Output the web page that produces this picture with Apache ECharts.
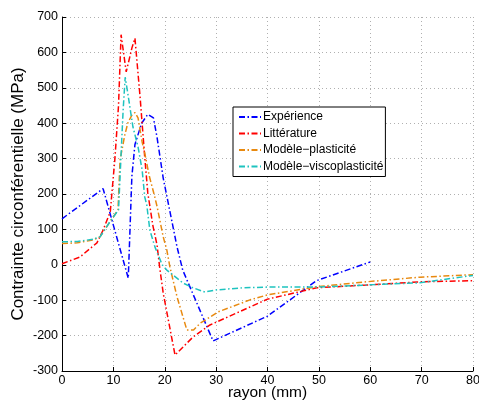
<!DOCTYPE html>
<html><head><meta charset="utf-8">
<script src="https://cdn.jsdelivr.net/npm/echarts@6/dist/echarts.min.js"></script>
<style>html,body{margin:0;padding:0;background:#fff}#c{width:479px;height:402px}</style>
</head><body><div id="c"></div>
<script>
var seriesNames = ['Expérience', 'Littérature', 'Modèle\u2212plasticité', 'Modèle\u2212viscoplasticité'];
var xTicks = [0, 10, 20, 30, 40, 50, 60, 70, 80];
var yTicks = [-300, -200, -100, 0, 100, 200, 300, 400, 500, 600, 700];

var expX = [0, 8, 12.9, 13.6, 14.2, 15.5, 16.7, 17.8, 18.5, 19.7, 22.4, 23.5, 29.4, 40, 49.5, 60];
var expY = [130, 215, -38, 250, 340, 400, 425, 415, 360, 245, 50, -15, -215, -145, -45, 8];

var litX = [0, 3.5, 6.8, 8, 9.4, 10.3, 11, 11.5, 12.5, 13.6, 14.2, 15.2, 16.1, 16.7, 17.7, 18.5, 19, 19.7, 22, 25.5, 28.8, 40, 49.6, 59.3, 69.6, 80];
var litY = [3, 22, 62, 98, 150, 300, 450, 650, 545, 612, 640, 474, 305, 203, 110, 56, -6, -80, -255, -204, -170, -97, -65, -57, -48, -45];

var plaX = [0, 3, 6, 7.4, 9.3, 10.9, 11.3, 12.2, 12.8, 13.6, 14.2, 14.8, 15.6, 16.1, 17, 18, 18.5, 19.7, 20.4, 21, 22.4, 24.3, 25.6, 26.9, 30.4, 36.6, 40, 49.6, 59.3, 69.6, 80];
var plaY = [60, 62, 70, 79, 121, 155, 296, 365, 400, 423, 430, 415, 347, 316, 250, 195, 165, 79, 42, -6, -91, -184, -184, -165, -133, -99, -85, -62, -48, -35, -28];

var visX = [0, 3, 6, 7.4, 9.3, 11, 11.3, 11.6, 11.9, 12.3, 12.8, 13.8, 14.8, 15.6, 16.1, 16.5, 17.1, 18.1, 19.5, 20.4, 21.6, 23.5, 25.5, 27.8, 30, 35.2, 40, 46.3, 49.6, 59.3, 69.6, 80];
var visY = [65, 66, 72, 79, 121, 155, 248, 344, 437, 530, 485, 390, 333, 268, 192, 169, 98, 50, 0, -15, -29, -51, -65, -77, -71, -65, -63, -63, -63, -57, -51, -30];

var colors = ['#0000ff', '#ff0000', '#e8890f', '#1ec3bf'];

function pairs(xs, ys) { return xs.map(function (x, i) { return [x, ys[i]]; }); }
var dataSets = [pairs(expX, expY), pairs(litX, litY), pairs(plaX, plaY), pairs(visX, visY)];

var font = 'Liberation Sans, Arial, Helvetica, sans-serif';
var chart = echarts.init(document.getElementById('c'), null, {renderer: 'canvas'});
chart.setOption({
  animation: false,
  backgroundColor: '#fff',
  grid: {left: 62, right: 6, top: 17, bottom: 31, containLabel: false, outerBoundsMode: 'none'},
  legend: {
    orient: 'vertical', left: 233, top: 107,
    data: seriesNames,
    backgroundColor: '#fff', borderColor: '#000', borderWidth: 1,
    padding: [4, 2, 4, 5], itemGap: 4.5, itemWidth: 22, itemHeight: 12,
    itemStyle: {opacity: 0},
    textStyle: {fontFamily: font, fontSize: 12, color: '#000', padding: [0, 0, 0, -3]}
  },
  xAxis: {
    type: 'value', min: xTicks[0], max: xTicks[xTicks.length - 1], interval: 10,
    name: 'rayon (mm)', nameLocation: 'middle', nameGap: 14, nameMoveOverlap: false,
    nameTextStyle: {fontFamily: font, fontSize: 15.5, color: '#000'},
    axisLine: {onZero: false, lineStyle: {color: '#000', width: 1}},
    axisTick: {inside: true, length: 4, lineStyle: {color: '#000'}},
    axisLabel: {fontFamily: font, fontSize: 12.5, color: '#000', margin: 3},
    splitLine: {show: true, lineStyle: {color: '#b0b0b0', type: [1, 3], width: 1}}
  },
  yAxis: {
    type: 'value', min: yTicks[0], max: yTicks[yTicks.length - 1], interval: 100,
    name: 'Contrainte circonférentielle (MPa)', nameLocation: 'middle', nameGap: 35, nameRotate: 90, nameMoveOverlap: false,
    nameTextStyle: {fontFamily: font, fontSize: 17, color: '#000'},
    axisLine: {show: true, onZero: false, lineStyle: {color: '#000', width: 1}},
    axisTick: {show: true, inside: true, length: 4, lineStyle: {color: '#000'}},
    axisLabel: {fontFamily: font, fontSize: 12.5, color: '#000', margin: 4},
    splitLine: {show: true, lineStyle: {color: '#b0b0b0', type: [1, 3], width: 1}}
  },
  series: seriesNames.map(function (n, i) {
    return {
      name: n, type: 'line', data: dataSets[i], symbol: 'none', smooth: false,
      color: colors[i],
      lineStyle: {color: colors[i], width: 1.5, type: [6, 2.5, 1.5, 2.5]}
    };
  })
});
</script></body></html>
